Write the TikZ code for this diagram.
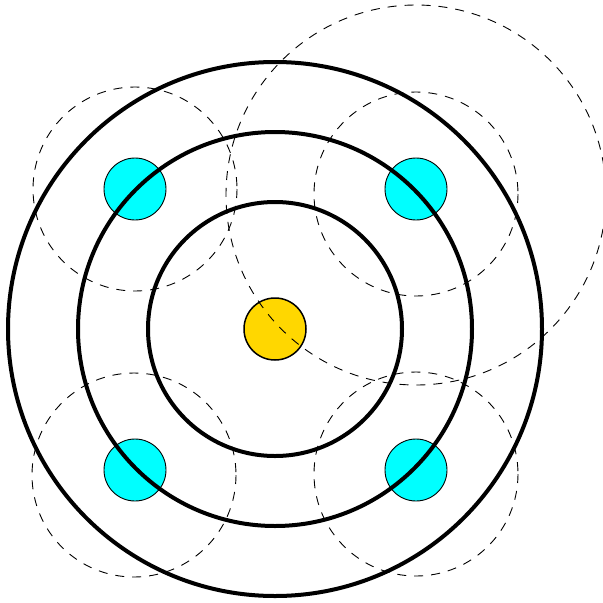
\documentclass[tikz,border=0pt]{standalone}
\definecolor{electroncyan}{RGB}{0,255,255}
\definecolor{nucleusgold}{RGB}{255,215,0}
\begin{document}
\begin{tikzpicture}[x=1pt,y=-1pt,
  ring/.style={draw=black,line width=4pt},
  guide/.style={draw=black,line width=0.9pt,dash pattern=on 9pt off 8pt},
  electron/.style={circle,draw=black,line width=0.9pt,fill=electroncyan,minimum size=62pt,inner sep=0pt},
  nucleus/.style={circle,draw=black,line width=1.5pt,fill=nucleusgold,minimum size=62pt,inner sep=0pt}]
\useasboundingbox (0,0) rectangle (603,603);
% electrons
\node[electron] (e1) at (135,189) {};
\node[electron] (e2) at (416,189) {};
\node[electron] (e3) at (135,470) {};
\node[electron] (e4) at (416,470) {};
% orbits
\draw[ring] (275,329) circle[radius=127];
\draw[ring] (275,329) circle[radius=197];
\draw[ring] (275,329) circle[radius=267];
% nucleus
\node[nucleus] (n) at (275,329) {};
% dashed guides
\draw[guide] (135,189) circle[radius=102];
\draw[guide] (416,194) circle[radius=102];
\draw[guide] (134,475) circle[radius=102];
\draw[guide] (416,474) circle[radius=102];
\draw[guide] (416,195) circle[radius=190];
\end{tikzpicture}
\end{document}
